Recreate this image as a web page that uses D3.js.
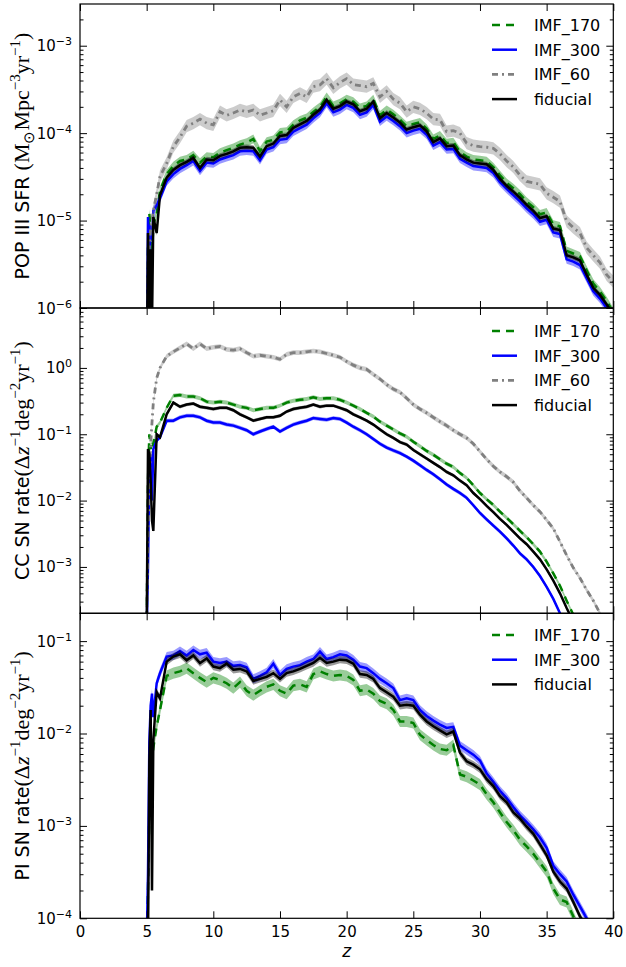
<!DOCTYPE html>
<html>
<head>
<meta charset="utf-8">
<script src="https://cdn.jsdelivr.net/npm/d3@7"></script>
<style>
  body { margin: 0; background: #fff; }
  svg { display: block; }
  text { font-family: "DejaVu Sans", sans-serif; fill: #000; }
</style>
</head>
<body>
<div id="chart"></div>
<script>
// redshift grid shared by every curve
const zGrid = [
  5.0, 5.1, 5.2, 5.3, 5.4, 5.5, 5.75, 6.0, 6.5, 7.0,
  7.5, 8.0, 8.5, 9.0, 9.5, 10.0, 10.5, 11.0, 11.5, 12.0,
  12.5, 13.0, 13.5, 14.0, 14.5, 15.0, 15.5, 16.0, 16.5, 17.0,
  17.5, 18.0, 18.5, 19.0, 19.5, 20.0, 20.5, 21.0, 21.5, 22.0,
  22.5, 23.0, 23.5, 24.0, 24.5, 25.0, 25.5, 26.0, 26.5, 27.0,
  27.5, 28.0, 28.5, 29.0, 29.5, 30.0, 30.5, 31.0, 31.5, 32.0,
  32.5, 33.0, 33.5, 34.0, 34.5, 35.0, 35.5, 36.0, 36.5, 37.0,
  37.5, 38.0, 38.5, 39.0, 39.5, 40.0
];
const zTicks = [0, 5, 10, 15, 20, 25, 30, 35, 40];

// POP III SFR panel
const sfr170 = [
  1e-7, 5e-6, 1.2e-5, 8e-6, 4e-6, 9e-6, 1.2e-5, 2.2e-5, 3.4e-5, 4.2e-5,
  4.8e-5, 5.0e-5, 5.6e-5, 4.6e-5, 5.4e-5, 5.3e-5, 6.0e-5, 6.4e-5, 6.8e-5, 7.4e-5,
  7.8e-5, 8.6e-5, 6.2e-5, 8.0e-5, 8.4e-5, 1.02e-4, 1.04e-4, 1.25e-4, 1.4e-4, 1.5e-4,
  1.75e-4, 2.0e-4, 2.6e-4, 2.05e-4, 2.2e-4, 2.45e-4, 2.3e-4, 1.95e-4, 2.05e-4, 2.45e-4,
  1.6e-4, 1.85e-4, 1.65e-4, 1.42e-4, 1.2e-4, 1.27e-4, 1.33e-4, 1.13e-4, 8.6e-5, 9.4e-5,
  7.7e-5, 7.9e-5, 6.1e-5, 5.4e-5, 5.0e-5, 4.9e-5, 4.8e-5, 4.1e-5, 3.3e-5, 2.7e-5,
  2.35e-5, 2.0e-5, 1.65e-5, 1.42e-5, 1.18e-5, 1.24e-5, 9.0e-6, 8.6e-6, 4.5e-6, 4.2e-6,
  3.9e-6, 2.7e-6, 1.9e-6, 1.55e-6, 1.2e-6, 9e-7
];
const sfr300 = [
  1e-7, 1.1e-5, 3e-6, 9e-6, 6e-6, 1.3e-5, 1.5e-5, 1.8e-5, 2.8e-5, 3.4e-5,
  3.9e-5, 4.3e-5, 4.8e-5, 3.7e-5, 4.6e-5, 4.5e-5, 5.0e-5, 5.3e-5, 5.6e-5, 6.2e-5,
  6.3e-5, 6.2e-5, 4.9e-5, 6.5e-5, 6.9e-5, 8.4e-5, 8.6e-5, 1.04e-4, 1.14e-4, 1.25e-4,
  1.48e-4, 1.7e-4, 2.2e-4, 1.73e-4, 1.86e-4, 2.1e-4, 1.95e-4, 1.62e-4, 1.73e-4, 2.1e-4,
  1.35e-4, 1.55e-4, 1.38e-4, 1.2e-4, 1.0e-4, 1.07e-4, 1.12e-4, 9.6e-5, 7.2e-5, 7.9e-5,
  6.5e-5, 6.6e-5, 5.1e-5, 4.6e-5, 4.2e-5, 4.1e-5, 4.0e-5, 3.5e-5, 2.75e-5, 2.3e-5,
  1.95e-5, 1.66e-5, 1.38e-5, 1.18e-5, 9.7e-6, 1.02e-5, 7.3e-6, 7.0e-6, 3.6e-6, 3.4e-6,
  3.1e-6, 2.2e-6, 1.55e-6, 1.28e-6, 1.0e-6, 7.5e-7
];
const sfr60 = [
  1e-7, 3e-6, 5e-6, 8e-6, 1.0e-5, 1.3e-5, 2.0e-5, 3.2e-5, 4.5e-5, 7.0e-5,
  9.0e-5, 1.2e-4, 1.3e-4, 1.45e-4, 1.3e-4, 1.24e-4, 1.76e-4, 1.6e-4, 1.7e-4, 1.84e-4,
  1.75e-4, 1.84e-4, 1.6e-4, 1.7e-4, 1.8e-4, 2.4e-4, 2.0e-4, 2.6e-4, 2.85e-4, 2.6e-4,
  3.4e-4, 3.55e-4, 4.2e-4, 3.3e-4, 3.8e-4, 4.2e-4, 3.6e-4, 3.5e-4, 3.4e-4, 3.7e-4,
  2.6e-4, 3.0e-4, 2.45e-4, 2.2e-4, 1.76e-4, 2.0e-4, 1.9e-4, 1.69e-4, 1.45e-4, 1.42e-4,
  1.04e-4, 1.07e-4, 1.0e-4, 7.7e-5, 7.2e-5, 7.0e-5, 6.9e-5, 6.7e-5, 5.8e-5, 4.8e-5,
  4.1e-5, 3.3e-5, 2.8e-5, 2.7e-5, 2.6e-5, 2.05e-5, 1.85e-5, 1.65e-5, 9.8e-6, 8.3e-6,
  7.2e-6, 4.9e-6, 4.0e-6, 3.3e-6, 2.4e-6, 2.0e-6
];
const sfrFid = [
  1e-7, 7.2e-6, 5e-7, 4.7e-6, 6.3e-7, 1.1e-5, 7.2e-6, 1.95e-5, 3.1e-5, 3.8e-5,
  4.3e-5, 4.7e-5, 5.2e-5, 4.0e-5, 5.0e-5, 4.9e-5, 5.5e-5, 5.8e-5, 6.2e-5, 6.8e-5,
  6.9e-5, 6.8e-5, 5.4e-5, 7.1e-5, 7.6e-5, 9.3e-5, 9.5e-5, 1.15e-4, 1.26e-4, 1.38e-4,
  1.62e-4, 1.86e-4, 2.4e-4, 1.9e-4, 2.04e-4, 2.3e-4, 2.14e-4, 1.78e-4, 1.9e-4, 2.3e-4,
  1.48e-4, 1.7e-4, 1.51e-4, 1.32e-4, 1.1e-4, 1.17e-4, 1.23e-4, 1.05e-4, 7.9e-5, 8.7e-5,
  7.1e-5, 7.2e-5, 5.6e-5, 5.0e-5, 4.6e-5, 4.5e-5, 4.4e-5, 3.8e-5, 3.0e-5, 2.5e-5,
  2.14e-5, 1.82e-5, 1.51e-5, 1.29e-5, 1.07e-5, 1.12e-5, 8.1e-6, 7.8e-6, 4.0e-6, 3.8e-6,
  3.5e-6, 2.4e-6, 1.7e-6, 1.41e-6, 1.1e-6, 8.3e-7
];

// CC SN rate panel
const cc170 = [
  1e-4, 0.02, 0.1, 0.06, 0.08, 0.07, 0.13, 0.15, 0.25, 0.38,
  0.39, 0.37, 0.37, 0.35, 0.31, 0.30, 0.31, 0.30, 0.28, 0.26,
  0.25, 0.23, 0.24, 0.25, 0.25, 0.27, 0.30, 0.32, 0.33, 0.34,
  0.36, 0.34, 0.35, 0.35, 0.33, 0.30, 0.27, 0.24, 0.21, 0.185,
  0.155, 0.135, 0.118, 0.103, 0.092, 0.077, 0.066, 0.056, 0.049, 0.042,
  0.036, 0.032, 0.026, 0.022, 0.017, 0.013, 0.0105, 0.0086, 0.0068, 0.0055,
  0.0044, 0.0035, 0.0028, 0.0022, 0.0017, 0.0012, 0.0008, 0.00052, 0.00031, 0.00019,
  0.00011
];
const cc300 = [
  1e-4, 0.001, 0.03, 0.05, 0.01, 0.06, 0.08, 0.09, 0.16, 0.16,
  0.18, 0.19, 0.19, 0.18, 0.16, 0.15, 0.15, 0.14, 0.135, 0.125,
  0.115, 0.1, 0.11, 0.12, 0.13, 0.11, 0.125, 0.14, 0.15, 0.16,
  0.175, 0.17, 0.165, 0.175, 0.17, 0.15, 0.13, 0.115, 0.1, 0.085,
  0.072, 0.063, 0.057, 0.052, 0.046, 0.04, 0.034, 0.029, 0.025, 0.021,
  0.0175, 0.015, 0.013, 0.011, 0.0085, 0.0065, 0.0052, 0.0042, 0.0034, 0.0027,
  0.0021, 0.0016, 0.0013, 0.001, 0.00073, 0.0005, 0.00033, 0.0002, 0.00012
];
const cc60 = [
  1e-4, 0.003, 0.02, 0.07, 0.15, 0.3, 0.7, 1.0, 1.5, 1.75,
  2.0, 2.3, 1.95, 2.3, 1.95, 2.05, 2.1, 1.9, 1.85, 1.95,
  1.7, 1.5, 1.55, 1.5, 1.45, 1.35, 1.6, 1.7, 1.7, 1.75,
  1.8, 1.75, 1.65, 1.55, 1.45, 1.25, 1.1, 1.0, 0.95, 0.8,
  0.68, 0.56, 0.48, 0.43, 0.35, 0.28, 0.24, 0.21, 0.18, 0.155,
  0.135, 0.115, 0.1, 0.088, 0.072, 0.055, 0.042, 0.033, 0.027, 0.023,
  0.019, 0.014, 0.011, 0.0085, 0.0068, 0.0051, 0.0038, 0.0024, 0.0015, 0.00097,
  0.00068, 0.00045, 0.00031, 0.0002, 0.00013, 0.00009
];
const ccFid = [
  1e-4, 0.06, 0.05, 0.02, 0.005, 0.0035, 0.1, 0.09, 0.2, 0.3,
  0.26, 0.28, 0.29, 0.26, 0.25, 0.24, 0.25, 0.25, 0.23, 0.2,
  0.18, 0.16, 0.17, 0.18, 0.18, 0.19, 0.22, 0.24, 0.25, 0.26,
  0.28, 0.26, 0.27, 0.27, 0.25, 0.23, 0.2, 0.18, 0.16, 0.14,
  0.118, 0.1, 0.088, 0.076, 0.07, 0.058, 0.05, 0.043, 0.037, 0.032,
  0.027, 0.024, 0.02, 0.017, 0.013, 0.0105, 0.0083, 0.0067, 0.0053, 0.0043,
  0.0034, 0.0027, 0.0022, 0.0017, 0.0013, 0.00092, 0.00062, 0.0004, 0.00024, 0.00015,
  0.00009
];

// PI SN rate panel
const pi170 = [
  5e-5, 0.0002, 0.0015, 0.0035, 0.005, 0.007, 0.012, 0.018, 0.042, 0.045,
  0.047, 0.051, 0.045, 0.04, 0.036, 0.04, 0.038, 0.035, 0.031, 0.036,
  0.029, 0.026, 0.029, 0.032, 0.034, 0.029, 0.027, 0.033, 0.034, 0.032,
  0.044, 0.047, 0.044, 0.042, 0.043, 0.042, 0.038, 0.029, 0.03, 0.027,
  0.0225, 0.021, 0.018, 0.0135, 0.0135, 0.013, 0.0097, 0.0085, 0.0075, 0.0068,
  0.0066, 0.0075, 0.0036, 0.0034, 0.0031, 0.0028, 0.0022, 0.0018, 0.0014, 0.0011,
  0.0009, 0.00071, 0.0006, 0.0005, 0.0004, 0.00032, 0.00021, 0.00016, 0.00015, 0.000105,
  0.00007
];
const pi300 = [
  5e-5, 0.0003, 0.008, 0.02, 0.027, 0.015, 0.035, 0.045, 0.068, 0.07,
  0.078, 0.07, 0.08, 0.072, 0.075, 0.06, 0.058, 0.06, 0.054, 0.055,
  0.052, 0.039, 0.042, 0.046, 0.057, 0.043, 0.05, 0.053, 0.055, 0.06,
  0.064, 0.077, 0.064, 0.067, 0.072, 0.07, 0.063, 0.053, 0.051, 0.045,
  0.039, 0.035, 0.031, 0.023, 0.024, 0.023, 0.018, 0.0155, 0.0138, 0.0125,
  0.0115, 0.0118, 0.0074, 0.0066, 0.0059, 0.0051, 0.0037, 0.003, 0.0024, 0.002,
  0.0016, 0.0013, 0.0011, 0.00092, 0.00075, 0.00058, 0.00037, 0.0003, 0.00025, 0.00018,
  0.000135, 0.0001, 0.00007
];
const piFid = [
  5e-5, 5e-5, 0.005, 0.018, 0.0002, 0.0085, 0.028, 0.024, 0.06, 0.068,
  0.072, 0.062, 0.07, 0.058, 0.065, 0.053, 0.051, 0.057, 0.049, 0.05,
  0.047, 0.037, 0.039, 0.041, 0.045, 0.039, 0.045, 0.047, 0.05, 0.054,
  0.058, 0.066, 0.058, 0.06, 0.063, 0.062, 0.057, 0.044, 0.043, 0.039,
  0.031, 0.028, 0.025, 0.02, 0.0205, 0.02, 0.016, 0.0135, 0.012, 0.0108,
  0.0098, 0.0105, 0.0062, 0.005, 0.0046, 0.0041, 0.0032, 0.0027, 0.0021, 0.0018,
  0.0014, 0.0012, 0.00098, 0.00082, 0.00063, 0.00048, 0.00032, 0.00025, 0.00021, 0.00015,
  0.000105, 0.00008
];

// half-width of the shaded spread, in dex, per series
const sfrSpread = [0.05, 0.05, 0.07, 0.03];
const ccSpread = [0.03, 0.03, 0.035, 0.025];
const piSpread = [0.06, 0.05, 0.04];

const width = 626, height = 967;
const plotLeft = 80, plotRight = 613.3;

const style = {
  IMF_170: { color: "#008000", dash: "8,6", width: 2.5 },
  IMF_300: { color: "#0000ff", dash: null, width: 2.5 },
  IMF_60: { color: "#808080", dash: "6,4,2,4", width: 2.8 },
  fiducial: { color: "#000000", dash: null, width: 2.5 }
};

const panels = [
  {
    top: 4, bottom: 308, domain: [1e-6, 3e-3], legendY: 25,
    series: [["IMF_170", sfr170], ["IMF_300", sfr300], ["IMF_60", sfr60], ["fiducial", sfrFid]],
    spread: sfrSpread,
    label: [["POP III SFR ", "sans"], ["(M", "serif"], ["\u2299", "sub"], ["Mpc", "base"], ["\u22123", "sup"], ["yr", "base"], ["\u22121", "sup"], [")", "base"]]
  },
  {
    top: 308, bottom: 613.3, domain: [2e-4, 8], legendY: 331,
    series: [["IMF_170", cc170], ["IMF_300", cc300], ["IMF_60", cc60], ["fiducial", ccFid]],
    spread: ccSpread,
    label: [["CC SN rate", "sans"], ["(\u0394", "serif"], ["z", "ital"], ["\u22121", "sup"], ["deg", "base"], ["\u22122", "sup"], ["yr", "base"], ["\u22121", "sup"], [")", "base"]]
  },
  {
    top: 613.3, bottom: 918.3, domain: [1e-4, 0.2], legendY: 635,
    series: [["IMF_170", pi170], ["IMF_300", pi300], ["fiducial", piFid]],
    spread: piSpread,
    label: [["PI SN rate", "sans"], ["(\u0394", "serif"], ["z", "ital"], ["\u22121", "sup"], ["deg", "base"], ["\u22122", "sup"], ["yr", "base"], ["\u22121", "sup"], [")", "base"]]
  }
];

const svg = d3.select("#chart").append("svg")
  .attr("width", width)
  .attr("height", height);

const x = d3.scaleLinear().domain([0, 40]).range([plotLeft, plotRight]);

panels.forEach((p, pi) => {
  const y = d3.scaleLog().domain(p.domain).range([p.bottom, p.top]);
  const g = svg.append("g");

  const clipId = "clip" + pi;
  svg.append("clipPath").attr("id", clipId)
    .append("rect")
    .attr("x", plotLeft).attr("y", p.top)
    .attr("width", plotRight - plotLeft).attr("height", p.bottom - p.top);

  const plot = g.append("g").attr("clip-path", `url(#${clipId})`);

  p.series.forEach(([name, values], si) => {
    const st = style[name];
    const w = Math.pow(10, p.spread[si]);
    const pts = values.map((v, i) => [zGrid[i], v]);

    const area = d3.area()
      .x(d => x(d[0]))
      .y0(d => y(d[1] / w))
      .y1(d => y(d[1] * w));
    plot.append("path")
      .attr("d", area(pts))
      .attr("fill", st.color)
      .attr("fill-opacity", 0.4)
      .attr("stroke", "none");

    const line = d3.line().x(d => x(d[0])).y(d => y(d[1]));
    plot.append("path")
      .attr("d", line(pts))
      .attr("fill", "none")
      .attr("stroke", st.color)
      .attr("stroke-width", st.width)
      .attr("stroke-dasharray", st.dash);
  });

  // ticks: inward, on all four sides
  const k0 = Math.ceil(Math.log10(p.domain[0])), k1 = Math.floor(Math.log10(p.domain[1]));
  const major = d3.range(k0, k1 + 1).map(k => Math.pow(10, k));
  const minor = [];
  d3.range(k0 - 1, k1 + 1).forEach(k => {
    for (let m = 2; m <= 9; m++) {
      const v = m * Math.pow(10, k);
      if (v > p.domain[0] && v < p.domain[1]) minor.push(v);
    }
  });

  const axes = [
    [d3.axisLeft(y).tickValues(major).tickSize(-7), `translate(${plotLeft},0)`],
    [d3.axisLeft(y).tickValues(minor).tickSize(-3.5), `translate(${plotLeft},0)`],
    [d3.axisRight(y).tickValues(major).tickSize(-7), `translate(${plotRight},0)`],
    [d3.axisRight(y).tickValues(minor).tickSize(-3.5), `translate(${plotRight},0)`],
    [d3.axisTop(x).tickValues(zTicks).tickSize(-7), `translate(0,${p.top})`],
    [d3.axisBottom(x).tickValues(zTicks).tickSize(-7).tickPadding(8), `translate(0,${p.bottom})`]
  ];
  axes.forEach(([ax, tr], ai) => {
    const a = g.append("g").attr("transform", tr).call(ax);
    a.select(".domain").remove();
    a.selectAll(".tick line").attr("stroke", "#000").attr("stroke-width", 1);
    const isBottomLabels = (ai === 5 && pi === panels.length - 1);
    if (isBottomLabels) {
      a.selectAll(".tick text")
        .attr("font-family", "DejaVu Sans")
        .attr("font-size", 15)
        .attr("fill", "#000");
    } else {
      a.selectAll(".tick text").remove();
    }
  });

  // y tick labels as 10^k
  major.forEach(v => {
    const k = Math.round(Math.log10(v));
    const t = g.append("text")
      .attr("x", 72)
      .attr("y", y(v) + 5.5)
      .attr("text-anchor", "end")
      .attr("font-size", 15);
    t.append("tspan").text("10");
    t.append("tspan").attr("dy", -6).attr("font-size", 11)
      .text(k < 0 ? "\u2212" + (-k) : String(k));
  });

  // frame
  g.append("rect")
    .attr("x", plotLeft).attr("y", p.top)
    .attr("width", plotRight - plotLeft).attr("height", p.bottom - p.top)
    .attr("fill", "none").attr("stroke", "#000").attr("stroke-width", 1.2);

  // y axis label
  const cy = (p.top + p.bottom) / 2;
  const lab = g.append("text")
    .attr("transform", `translate(29,${cy}) rotate(-90)`)
    .attr("text-anchor", "middle")
    .attr("font-size", 19);
  let shift = 0;
  p.label.forEach(([txt, kind]) => {
    const ts = lab.append("tspan").text(txt);
    let target = 0;
    if (kind === "sans") {
      ts.attr("font-family", "DejaVu Sans").attr("font-size", 19);
    } else {
      ts.attr("font-family", "'Liberation Serif', serif").attr("font-size", kind === "sup" || kind === "sub" ? 15 : 22);
      if (kind === "ital") ts.attr("font-style", "italic");
      if (kind === "sup") target = -9;
      if (kind === "sub") target = 5;
    }
    if (target !== shift) { ts.attr("dy", target - shift); shift = target; }
  });

  // legend
  p.series.forEach(([name], si) => {
    const st = style[name];
    const ly = p.legendY + si * 24.7;
    g.append("line")
      .attr("x1", 492).attr("x2", 517)
      .attr("y1", ly).attr("y2", ly)
      .attr("stroke", st.color)
      .attr("stroke-width", st.width)
      .attr("stroke-dasharray", st.dash);
    g.append("text")
      .attr("x", 534).attr("y", ly + 5.8)
      .attr("font-size", 16)
      .text(name);
  });
});

// x axis label
svg.append("text")
  .attr("x", (plotLeft + plotRight) / 2)
  .attr("y", 957)
  .attr("text-anchor", "middle")
  .attr("font-family", "'Liberation Serif', serif")
  .attr("font-style", "italic")
  .attr("font-size", 17)
  .text("z");
</script>
</body>
</html>
